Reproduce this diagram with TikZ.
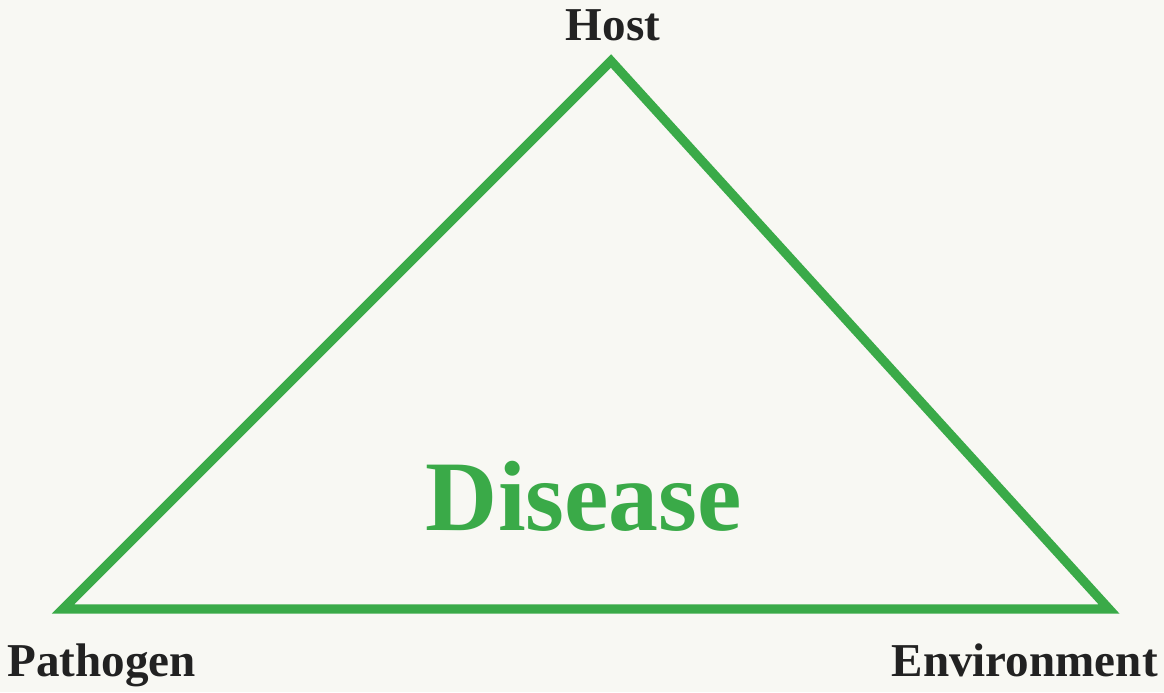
\documentclass[tikz,border=0pt]{standalone}
\usepackage{fontspec}
\setmainfont{Liberation Serif}
\usetikzlibrary{positioning}
\definecolor{verde}{RGB}{58,170,72}
\definecolor{hartie}{RGB}{248,248,243}
\definecolor{cerneala}{RGB}{34,34,34}
\tikzset{
  latura/.style   = {draw=verde, line width=6.6pt, line join=miter},
  eticheta/.style = {font=\fontsize{33.5}{38}\selectfont\bfseries, text=cerneala, inner sep=0pt},
  centru/.style   = {font=\fontsize{71}{80}\selectfont\bfseries, text=verde, inner sep=0pt}
}
\begin{document}
\begin{tikzpicture}[x=0.025cm, y=-0.025cm]
    \fill[hartie] (0,0) rectangle (1164,692);
    \useasboundingbox (0,0) rectangle (1164,692);

    \coordinate (varf) at (611,61);
    \coordinate (stanga) at (63,609);
    \coordinate (dreapta) at (1109,609);

    \draw[latura] (stanga) -- (varf) -- (dreapta) -- cycle;

    \node[eticheta, anchor=base] (gazda) at (613,40) {Host};
    \node[eticheta, anchor=base west] (patogen) at (7,676) {Pathogen};
    \node[eticheta, anchor=base east] (mediu) at (1158,676) {Environment};
    \node[centru, anchor=base] (boala) at (584,530) {Disease};
\end{tikzpicture}
\end{document}
